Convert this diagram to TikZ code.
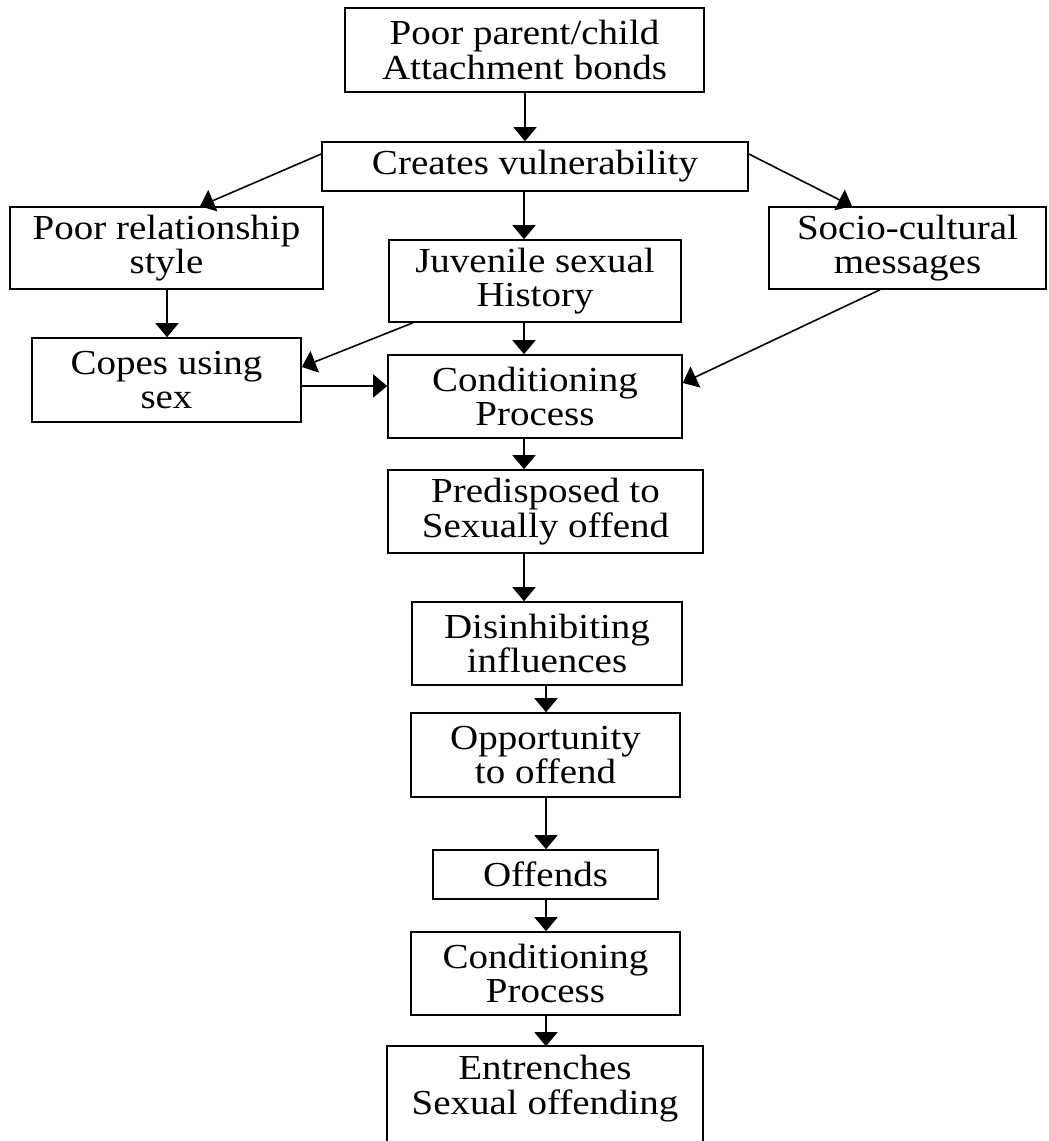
\documentclass[tikz,border=0pt]{standalone}
\usepackage{fontspec}
\setmainfont{Liberation Serif}[FakeStretch=1.11]
\usetikzlibrary{arrows.meta,calc}
\begin{document}
\begin{tikzpicture}[x=0.02cm,y=-0.02cm,
  bx/.style 2 args={draw, line width=0.9pt, minimum width=#1*0.02cm, minimum height=#2*0.02cm, inner sep=0pt, align=center, font=\fontsize{20pt}{19.5pt}\selectfont},
  arr/.style={line width=0.9pt, -{Triangle[length=0.28cm,width=0.46cm]}},
  ln/.style={line width=0.9pt}]
\useasboundingbox (0,0) rectangle (1048,1141);
\clip (0,0) rectangle (1048,1141);
\fill[white] (0,0) rectangle (1048,1141);
\node[bx={359}{84}] (b1) at (524.5,50) {Poor parent/child\\Attachment bonds};
\node[bx={426}{49}] (b2) at (535,166.5) {Creates vulnerability};
\node[bx={313}{82}] (b3) at (166.5,248) {Poor relationship\\style};
\node[bx={292}{82}] (b4) at (535,281) {Juvenile sexual\\History};
\node[bx={277}{82}] (b5) at (907.5,248) {Socio-cultural\\messages};
\node[bx={269}{84}] (b6) at (166.5,380) {Copes using\\sex};
\node[bx={294}{83}] (b7) at (535,396.5) {Conditioning\\Process};
\node[bx={315}{83}] (b8) at (545.5,511.5) {Predisposed to\\Sexually offend};
\node[bx={270}{83}] (b9) at (547,643.5) {Disinhibiting\\influences};
\node[bx={269}{84}] (b10) at (545.5,755) {Opportunity\\to offend};
\node[bx={225}{49}] (b11) at (545.5,874.5) {Offends};
\node[bx={269}{83}] (b12) at (545.5,973.5) {Conditioning\\Process};
\node[bx={314}{83},draw=none] (b13) at (545,1088.5) {Entrenches\\Sexual offending};
\draw[ln] (b13.south west) ++(0,80) -- (b13.north west) -- (b13.north east) -- (b13.south east) -- ++(0,80);
% vertical arrows
\draw[arr] (b1.south -| 525,0) -- (b2.north -| 525,0);
\draw[arr] (b2.south -| 524,0) -- (b4.north -| 524,0);
\draw[arr] (b4.south -| 524,0) -- (b7.north -| 524,0);
\draw[arr] (b3.south -| 167,0) -- (b6.north -| 167,0);
\draw[arr] (b7.south -| 524,0) -- (b8.north -| 524,0);
\draw[arr] (b8.south -| 524,0) -- (b9.north -| 524,0);
\draw[arr] (b9.south -| 546,0) -- (b10.north -| 546,0);
\draw[arr] (b10.south -| 546,0) -- (b11.north -| 546,0);
\draw[arr] (b11.south -| 546,0) -- (b12.north -| 546,0);
\draw[arr] (b12.south -| 546,0) -- (b13.north -| 546,0);
% diagonal arrows
\draw[arr] (b2.west |- 0,154) -- (b3.north -| 200,0);
\draw[arr] (b2.east |- 0,154) -- (b5.north -| 852,0);
\draw[arr] (b4.south -| 413,0) -- (b6.east |- 0,367);
\draw[arr] (b5.south -| 880,0) -- (b7.east |- 0,383);
\draw[arr] (b6.east |- 0,386) -- (b7.west |- 0,386);
\end{tikzpicture}
\end{document}
